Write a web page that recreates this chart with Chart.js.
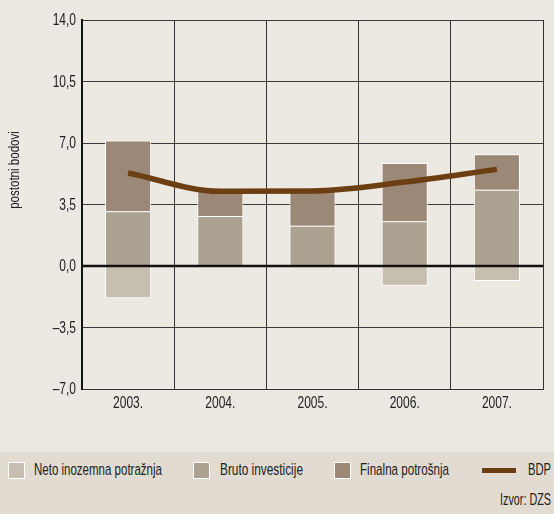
<!DOCTYPE html>
<html>
<head>
<meta charset="utf-8">
<script src="https://cdn.jsdelivr.net/npm/chart.js@4"></script>
<style>
  body { margin: 0; background: #ece8e2; font-family: "Liberation Sans", Arial, sans-serif; color: #222; }
  #wrap { position: relative; width: 554px; height: 514px; overflow: hidden; }
  #chart-box { position: absolute; left: 0; top: 0; width: 554px; height: 452px; }
  #legend { position: absolute; left: 0; top: 452px; width: 554px; height: 62px; background: #e1dbd1; font-size: 17px; }
  .box { position: absolute; top: 10px; width: 15px; height: 15px; border: 1px solid #fff; }
  .bar { position: absolute; top: 16px; width: 34px; height: 5px; }
  .txt { position: absolute; top: 8px; line-height: 19px; white-space: nowrap; transform-origin: 0 50%; }
  #source { top: 38px; }
</style>
</head>
<body>
<div id="wrap">
  <div id="chart-box"><canvas id="chart"></canvas></div>
  <div id="legend"></div>
</div>
<script>
const years = ['2003.', '2004.', '2005.', '2006.', '2007.'];
const netoInozemna = [-1.84, -0.12, 0.0, -1.13, -0.85];
const brutoInvesticije = [3.11, 2.84, 2.29, 2.54, 4.34];
const finalnaPotrosnja = [4.03, 1.46, 2.01, 3.32, 2.02];
const bdp = [5.29, 4.25, 4.27, 4.78, 5.5];

const colors = { neto: '#c7beb2', bruto: '#aca291', finalna: '#9c8877', bdp: '#6b3f12' };
const family = '"Liberation Sans", Arial, sans-serif';

const fmt = v => (v < 0 ? '\u2013' : '') + Math.abs(v).toFixed(1).replace('.', ',');

// the original uses a condensed face, so squeeze the text horizontally
function condensedText(ctx, text, x, y, align, size, sx) {
  ctx.save();
  ctx.font = size + 'px ' + family;
  ctx.fillStyle = '#222';
  ctx.textBaseline = 'middle';
  ctx.textAlign = align;
  ctx.translate(x, y);
  ctx.scale(sx, 1);
  ctx.fillText(text, 0, 0);
  ctx.restore();
}

// zero line sits on top of the bars
const zeroLine = {
  id: 'zeroLine',
  afterDatasetsDraw(chart) {
    const y = chart.scales.y.getPixelForValue(0);
    const { left, right } = chart.chartArea;
    const ctx = chart.ctx;
    ctx.save();
    ctx.strokeStyle = '#111';
    ctx.lineWidth = 2.5;
    ctx.beginPath();
    ctx.moveTo(left, y);
    ctx.lineTo(right, y);
    ctx.stroke();
    ctx.restore();
  }
};

const axisText = {
  id: 'axisText',
  afterDraw(chart) {
    const ctx = chart.ctx;
    const ys = chart.scales.y, xs = chart.scales.x;
    ys.ticks.forEach(t => {
      condensedText(ctx, fmt(t.value), ys.right - 6, ys.getPixelForValue(t.value) + 1, 'right', 16, 0.75);
    });
    xs.ticks.forEach((t, i) => {
      condensedText(ctx, years[i], xs.getPixelForValue(i), chart.chartArea.bottom + 15, 'center', 16, 0.75);
    });
    ctx.save();
    ctx.translate(15, 170);
    ctx.rotate(-Math.PI / 2);
    condensedText(ctx, 'postotni bodovi', 0, 0, 'center', 15, 0.77);
    ctx.restore();
  }
};

const ctx = document.getElementById('chart').getContext('2d');
const chart = new Chart(ctx, {
  data: {
    labels: years,
    datasets: [
      { type: 'line', label: 'BDP', data: bdp, borderColor: colors.bdp, borderWidth: 5.5,
        pointRadius: 0, cubicInterpolationMode: 'monotone', borderCapStyle: 'butt', order: 0 },
      { type: 'bar', label: 'Neto inozemna potražnja', data: netoInozemna, backgroundColor: colors.neto,
        borderColor: '#fff', borderWidth: 1, barPercentage: 0.5, categoryPercentage: 1, order: 1 },
      { type: 'bar', label: 'Bruto investicije', data: brutoInvesticije, backgroundColor: colors.bruto,
        borderColor: '#fff', borderWidth: 1, barPercentage: 0.5, categoryPercentage: 1, order: 1 },
      { type: 'bar', label: 'Finalna potrošnja', data: finalnaPotrosnja, backgroundColor: colors.finalna,
        borderColor: '#fff', borderWidth: 1, barPercentage: 0.5, categoryPercentage: 1, order: 1 }
    ]
  },
  options: {
    responsive: true,
    maintainAspectRatio: false,
    animation: false,
    layout: { padding: { left: 0, top: 20, right: 11, bottom: 0 } },
    plugins: { legend: { display: false }, tooltip: { enabled: false } },
    scales: {
      x: {
        stacked: true,
        grid: { offset: true, color: '#333', lineWidth: 1, drawTicks: false },
        border: { color: '#333', width: 1 },
        ticks: { display: false },
        afterFit: s => { s.height = 63; }
      },
      y: {
        stacked: true,
        min: -7, max: 14,
        grid: { color: '#3a3a3a', lineWidth: 1, drawTicks: false },
        border: { color: '#111', width: 2 },
        ticks: { stepSize: 3.5, display: false },
        afterFit: s => { s.width = 82; }
      }
    }
  },
  plugins: [zeroLine, axisText]
});

// html legend built from the datasets
const legend = document.getElementById('legend');
const measure = document.createElement('canvas').getContext('2d');
measure.font = '17px ' + family;

function addText(text, left, width, id) {
  const el = document.createElement('div');
  el.className = 'txt';
  if (id) el.id = id;
  el.style.left = left + 'px';
  el.style.transform = 'scaleX(' + (width / measure.measureText(text).width).toFixed(3) + ')';
  el.textContent = text;
  legend.appendChild(el);
  return el;
}

const items = [
  { ds: 1, mark: 8, text: 34, width: 128 },
  { ds: 2, mark: 193, text: 220, width: 83 },
  { ds: 3, mark: 334, text: 360, width: 89 },
  { ds: 0, mark: 482, text: 528, width: 23 }
];
items.forEach(it => {
  const ds = chart.data.datasets[it.ds];
  const mark = document.createElement('div');
  mark.style.left = it.mark + 'px';
  if (ds.type === 'line') {
    mark.className = 'bar';
    mark.style.background = ds.borderColor;
  } else {
    mark.className = 'box';
    mark.style.background = ds.backgroundColor;
  }
  legend.appendChild(mark);
  addText(ds.label, it.text, it.width);
});
addText('Izvor: DZS', 500, 51, 'source');
</script>
</body>
</html>
